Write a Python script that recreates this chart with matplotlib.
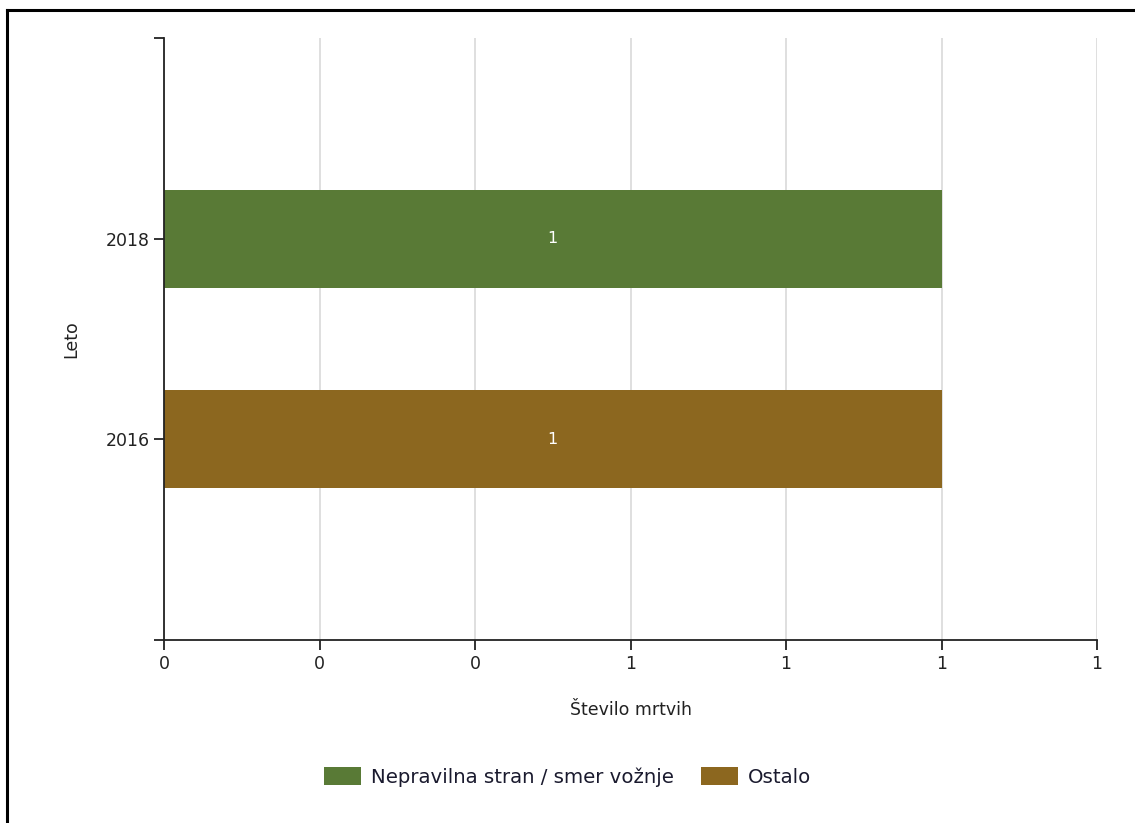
import matplotlib
matplotlib.use("Agg")
import matplotlib.pyplot as plt
from matplotlib.lines import Line2D

# Data
years = ["2016", "2018"]
series = ["Nepravilna stran / smer vožnje", "Ostalo"]
values_nepravilna = [0, 1]   # 2016, 2018
values_ostalo = [1, 0]
colors = ["#597A36", "#8C671F"]
x_ticks = [0, 0.2, 0.4, 0.6, 0.8, 1.0, 1.2]

plt.rcParams["font.family"] = ["DejaVu Sans"]
fs = 12.5

fig = plt.figure(figsize=(11.35, 8.23), dpi=100)
ax = fig.add_axes([164 / 1135, 1 - 640 / 823, (1097 - 164) / 1135, (640 - 38) / 823])

pos = list(range(len(years)))
for vals, name, col in [(values_nepravilna, series[0], colors[0]),
                        (values_ostalo, series[1], colors[1])]:
    ys = [p for p, v in zip(pos, vals) if v]
    ws = [v for v in vals if v]
    bars = ax.barh(ys, ws, height=0.49, color=col, label=name, zorder=2)
    for b, v in zip(bars, ws):
        ax.text(b.get_width() / 2, b.get_y() + b.get_height() / 2, f"{v:.0f}",
                color="white", ha="center", va="center", fontsize=11.5, zorder=3)

ax.set_xlim(0, 1.2)
ax.set_ylim(-1, 2)
ax.set_xticks(x_ticks)
ax.set_xticklabels([f"{round(t):.0f}" for t in x_ticks])
ax.set_yticks([-1] + pos + [2])
ax.set_yticklabels([""] + years + [""])

ax.grid(axis="x", color="#d9d9d9", linewidth=1.2, zorder=0)
ax.set_axisbelow(True)
for s in ["top", "right"]:
    ax.spines[s].set_visible(False)
for s in ["left", "bottom"]:
    ax.spines[s].set_linewidth(1.3)
    ax.spines[s].set_color("#222222")
ax.tick_params(axis="both", length=7, width=1.3, color="#222222",
               labelsize=fs, labelcolor="#222222")
ax.tick_params(axis="x", pad=4)

ax.set_xlabel("Število mrtvih", fontsize=fs, color="#222222", labelpad=20)
ax.set_ylabel("Leto", fontsize=fs, color="#222222", labelpad=18)

fig.legend(loc="center", bbox_to_anchor=(0.5, 1 - 777 / 823), ncol=2, frameon=False,
           fontsize=14.2, handlelength=1.85, handleheight=1.0, handletextpad=0.5,
           columnspacing=1.4, labelcolor="#1a1a2e")

# outer frame (left and top edges visible)
fig.add_artist(Line2D([7 / 1135, 7 / 1135], [0, 1 - 10 / 823], color="black",
                      linewidth=2.2, transform=fig.transFigure))
fig.add_artist(Line2D([7 / 1135, 1], [1 - 10 / 823, 1 - 10 / 823], color="black",
                      linewidth=2.2, transform=fig.transFigure))

fig.savefig("out.png", dpi=100)
